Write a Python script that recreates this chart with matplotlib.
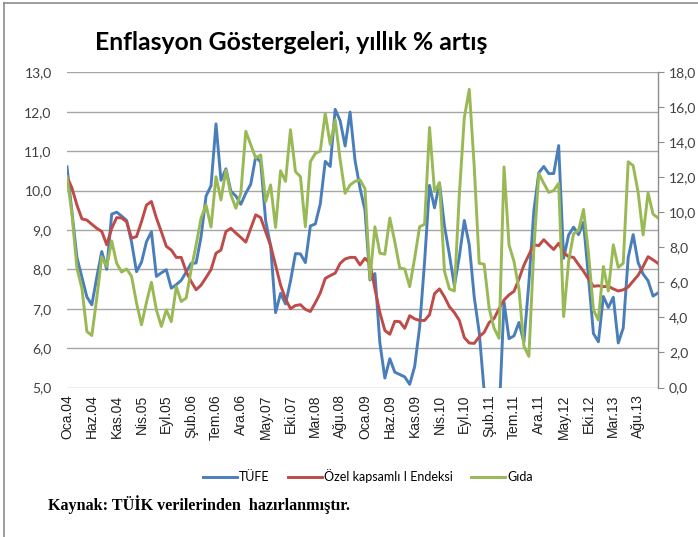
import matplotlib
matplotlib.use("Agg")
import matplotlib.pyplot as plt
from matplotlib.lines import Line2D
import numpy as np

# ---- data (monthly, Oca.04 .. Ara.13) ----
tufe = [10.60, 9.45, 8.30, 7.80, 7.30, 7.10, 7.80, 8.45, 8.00, 9.40, 9.45, 9.35,
        9.24, 8.69, 7.94, 8.18, 8.70, 8.95, 7.82, 7.91, 7.99, 7.52, 7.61, 7.72,
        7.93, 8.15, 8.16, 8.83, 9.86, 10.12, 11.69, 10.26, 10.55, 9.98, 9.86, 9.65,
        9.93, 10.16, 10.86, 10.72, 9.23, 8.60, 6.90, 7.39, 7.12, 7.70, 8.40, 8.39,
        8.17, 9.10, 9.15, 9.66, 10.74, 10.61, 12.06, 11.77, 11.13, 11.99, 10.76, 10.06,
        9.50, 7.73, 7.89, 6.13, 5.24, 5.73, 5.39, 5.33, 5.27, 5.08, 5.53, 6.53,
        8.19, 10.13, 9.56, 10.19, 9.10, 8.37, 7.58, 8.33, 9.24, 8.62, 7.29, 6.40,
        4.90, 4.16, 3.99, 4.26, 7.17, 6.24, 6.31, 6.65, 6.15, 7.66, 9.48, 10.45,
        10.61, 10.43, 10.43, 11.14, 8.28, 8.87, 9.07, 8.88, 9.19, 7.80, 6.37, 6.16,
        7.31, 7.03, 7.29, 6.13, 6.51, 8.30, 8.88, 8.17, 7.88, 7.71, 7.32, 7.40]

ozel = [12.04, 11.39, 10.42, 9.63, 9.56, 9.32, 9.09, 8.91, 8.15, 9.09, 9.70, 9.68,
        9.47, 8.53, 8.62, 9.47, 10.42, 10.62, 9.68, 8.89, 8.06, 7.85, 7.43, 7.43,
        6.62, 6.05, 5.58, 5.85, 6.28, 6.73, 7.67, 7.85, 8.91, 9.09, 8.82, 8.57,
        8.30, 9.09, 9.86, 9.70, 8.89, 8.10, 6.98, 5.85, 5.06, 4.50, 4.68, 4.73,
        4.46, 4.34, 4.84, 5.40, 6.23, 6.39, 6.53, 7.09, 7.34, 7.43, 7.43, 7.00,
        7.38, 7.09, 5.63, 4.28, 3.26, 3.04, 3.78, 3.76, 3.38, 4.10, 3.92, 3.83,
        3.83, 4.16, 5.36, 5.63, 5.18, 4.61, 4.28, 3.83, 2.85, 2.54, 2.52, 2.90,
        3.15, 3.71, 3.94, 4.50, 5.00, 5.29, 5.49, 6.19, 6.98, 7.58, 8.15, 8.10,
        8.44, 8.15, 7.88, 8.24, 7.70, 7.47, 7.43, 7.02, 6.64, 6.19, 5.78, 5.81,
        5.76, 5.78, 5.63, 5.51, 5.58, 5.74, 6.08, 6.41, 6.91, 7.47, 7.29, 7.09]

gida = [12.04, 9.90, 6.82, 5.67, 3.20, 2.97, 5.11, 7.47, 6.91, 8.37, 7.09, 6.59,
        6.77, 6.35, 4.82, 3.58, 4.86, 6.01, 4.43, 3.49, 4.43, 3.76, 5.76, 4.91,
        5.11, 6.73, 8.15, 9.68, 10.42, 9.16, 12.04, 10.71, 12.42, 11.00, 10.24, 11.09,
        14.63, 13.86, 13.10, 13.28, 10.62, 11.57, 9.14, 12.38, 11.77, 14.72, 12.33, 12.04,
        9.18, 12.89, 13.37, 13.50, 15.66, 13.88, 15.28, 13.01, 11.09, 11.57, 11.77, 11.86,
        11.36, 6.19, 9.18, 7.67, 7.61, 9.68, 8.33, 6.82, 6.77, 5.76, 7.38, 9.18,
        9.32, 14.85, 11.18, 11.70, 6.64, 5.63, 5.51, 11.03, 15.41, 17.03, 12.60, 7.09,
        7.04, 4.52, 3.38, 2.81, 12.60, 8.15, 7.20, 5.63, 2.36, 1.78, 7.88, 12.22,
        11.66, 11.14, 11.25, 11.66, 4.05, 7.20, 8.78, 8.96, 10.17, 7.70, 4.43, 3.85,
        6.91, 5.51, 8.15, 6.86, 7.09, 12.89, 12.67, 11.14, 8.71, 11.12, 9.90, 9.68]

tick_labels = ["Oca.04", "Haz.04", "Kas.04", "Nis.05", "Eyl.05", "Şub.06", "Tem.06",
               "Ara.06", "May.07", "Eki.07", "Mar.08", "Ağu.08", "Oca.09", "Haz.09",
               "Kas.09", "Nis.10", "Eyl.10", "Şub.11", "Tem.11", "Ara.11", "May.12",
               "Eki.12", "Mar.13", "Ağu.13"]
left_ticks = [5, 6, 7, 8, 9, 10, 11, 12, 13]
right_ticks = [0, 2, 4, 6, 8, 10, 12, 14, 16, 18]

# ---- figure ----
W, H = 698, 537
fig = plt.figure(figsize=(W / 100, H / 100), dpi=100)
ax = fig.add_axes([67 / W, 1 - 387.5 / H, (658 - 67) / W, (387.5 - 72.3) / H])
ax2 = ax.twinx()

x = np.arange(len(tufe))
blue, red, green = "#4A7EBB", "#BE4B48", "#98B954"
lw = 2.1
l1, = ax.plot(x, tufe, color=blue, lw=lw, solid_joinstyle="round", zorder=3)
l2, = ax2.plot(x, ozel, color=red, lw=lw, solid_joinstyle="round", zorder=3)
l3, = ax2.plot(x, gida, color=green, lw=lw, solid_joinstyle="round", zorder=4)

ax.set_xlim(0, len(tufe) - 1)
ax.set_ylim(5, 13)
ax2.set_ylim(0, 18)

lab_font = "Lato"
ax.set_yticks(left_ticks)
ax.set_yticklabels([f"{v:.1f}".replace(".", ",") for v in left_ticks],
                   fontsize=10, color="#404040", family=lab_font)
ax2.set_yticks(right_ticks)
ax2.set_yticklabels([f"{v:.1f}".replace(".", ",") for v in right_ticks],
                    fontsize=10, color="#404040", family=lab_font)

ax.set_xticks(np.arange(0, len(tufe), 5)[:len(tick_labels)])
ax.set_xticklabels(tick_labels, rotation=90, fontsize=10,
                   family="Liberation Sans", color="#202020")
ax.tick_params(axis="x", length=0, pad=5)
ax.tick_params(axis="y", length=0, pad=11)
ax2.tick_params(axis="y", length=4, width=0.8, color="#8C8C8C", pad=4, direction="out")

ax.grid(axis="y", color="#A6A6A6", lw=1.0)
ax.set_axisbelow(True)
for a in (ax, ax2):
    for s in ("top", "left", "bottom", "right"):
        a.spines[s].set_visible(False)
ax2.spines["right"].set_visible(True)
ax2.spines["right"].set_color("#8C8C8C")
ax2.spines["right"].set_linewidth(1.0)

# title
fig.text(291 / W, 1 - 42 / H, "Enflasyon Göstergeleri, yıllık % artış",
         ha="center", va="center", fontsize=17.8, fontweight="bold",
         family="Lato", color="#000000")

# legend
fig.legend([l1, l2, l3], ["TÜFE", "Özel kapsamlı I Endeksi", "Gıda"],
           loc="center", bbox_to_anchor=(368 / W, 1 - 476 / H), ncol=3,
           frameon=False, prop={"family": lab_font, "size": 9},
           handlelength=2.7, handletextpad=0.15, columnspacing=1.5)

# source note
fig.text(48 / W, 1 - 505 / H, "Kaynak: TÜİK verilerinden  hazırlanmıştır.",
         ha="left", va="center", fontsize=11.6, fontweight="bold",
         family="Liberation Serif", color="#000000")

# outer frame
fig.add_artist(Line2D([4 / W, 4 / W], [0, 1 - 3 / H], transform=fig.transFigure,
                      color="#8C8C8C", lw=1.2))
fig.add_artist(Line2D([4 / W, 1], [1 - 3 / H, 1 - 3 / H], transform=fig.transFigure,
                      color="#8C8C8C", lw=1.2))

fig.savefig("out.png", dpi=100, facecolor="white")
